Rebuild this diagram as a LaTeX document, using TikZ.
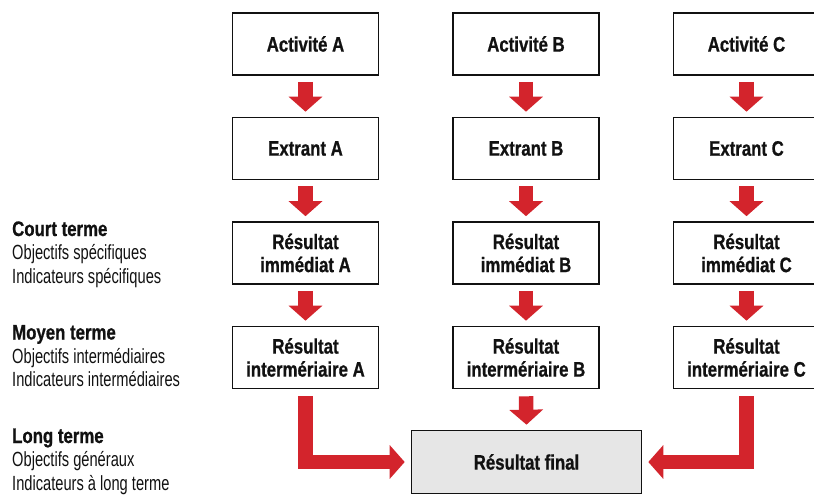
\documentclass[tikz,border=0pt]{standalone}
\usepackage{fontspec}
\setmainfont{Liberation Sans}[FakeStretch=0.715, BoldFeatures={FakeStretch=0.8, FakeBold=0.8}]
\usetikzlibrary{arrows.meta}
\definecolor{myred}{HTML}{D3242C}
\definecolor{boxgray}{HTML}{E6E6E6}
\definecolor{ink}{HTML}{111111}
\begin{document}
\begin{tikzpicture}[x=1pt,y=-1pt,
  box/.style={draw=ink, line width=1.6pt, minimum width=146pt, minimum height=62pt,
    align=center, inner sep=0pt, text=ink,
    font=\fontsize{21}{23}\selectfont\bfseries},
  finalbox/.style={box, fill=boxgray, minimum width=230pt, minimum height=63pt},
  flow/.style={draw=myred, line width=14.5pt, line join=miter,
    -{Triangle[length=15pt,width=33pt]}},
  headtxt/.style={anchor=base west, inner sep=0pt, text=ink,
    font=\fontsize{21}{23}\selectfont\bfseries},
  subtxt/.style={anchor=base west, inner sep=0pt, text=ink,
    font=\fontsize{20.5}{23}\selectfont}
]
\useasboundingbox (0,0) rectangle (814,495);

% column A
\node[box] (aA) at (305.5,44) {Activité A};
\node[box] (eA) at (305.5,148.5) {Extrant A};
\node[box] (rA) at (305.5,253) {Résultat\\immédiat A};
\node[box] (iA) at (305.5,357.5) {Résultat\\intermériaire A};
% column B
\node[box] (aB) at (526,44) {Activité B};
\node[box] (eB) at (526,148.5) {Extrant B};
\node[box] (rB) at (526,253) {Résultat\\immédiat B};
\node[box] (iB) at (526,357.5) {Résultat\\intermériaire B};
% column C
\node[box] (aC) at (746.5,44) {Activité C};
\node[box] (eC) at (746.5,148.5) {Extrant C};
\node[box] (rC) at (746.5,253) {Résultat\\immédiat C};
\node[box] (iC) at (746.5,357.5) {Résultat\\intermériaire C};
% final
\node[finalbox] (F) at (526.5,462) {Résultat final};

% small arrows
\foreach \c in {A,B,C}{
  \draw[flow] ([yshift=-6pt]a\c.south) -- ([yshift=5pt]e\c.north);
  \draw[flow] ([yshift=-6pt]e\c.south) -- ([yshift=5pt]r\c.north);
  \draw[flow] ([yshift=-6pt]r\c.south) -- ([yshift=5pt]i\c.north);
}
\draw[flow] ([yshift=-7pt]iB.south) -- ([yshift=5pt]F.north);
\draw[flow] ([yshift=-7pt]iA.south) |- ([xshift=-6pt]F.west);
\draw[flow] ([yshift=-7pt]iC.south) |- ([xshift=6pt]F.east);

% left legend
\node[headtxt] (c1) at (12,236) {Court terme};
\node[subtxt] (c2) at (12,259.5) {Objectifs spécifiques};
\node[subtxt] (c3) at (12,283) {Indicateurs spécifiques};
\node[headtxt] (m1) at (12,339.5) {Moyen terme};
\node[subtxt] (m2) at (12,363) {Objectifs intermédiaires};
\node[subtxt] (m3) at (12,386.5) {Indicateurs intermédiaires};
\node[headtxt] (l1) at (12,443) {Long terme};
\node[subtxt] (l2) at (12,466.5) {Objectifs généraux};
\node[subtxt] (l3) at (12,490) {Indicateurs à long terme};
\end{tikzpicture}
\end{document}
